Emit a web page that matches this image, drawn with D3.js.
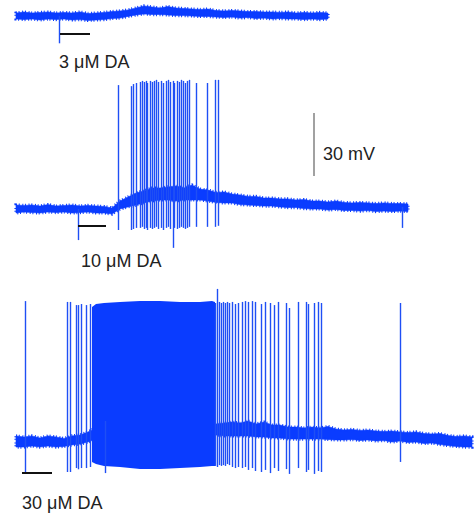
<!DOCTYPE html>
<html>
<head>
<meta charset="utf-8">
<script src="https://cdn.jsdelivr.net/npm/d3@7"></script>
<style>
  body { margin: 0; background: #fff; }
  svg { display: block; }
  text { font-family: "Liberation Sans", Arial, sans-serif; font-size: 18px; fill: #222; }
</style>
</head>
<body>
<svg id="chart" width="476" height="515"></svg>
<script>
// envelope of each recording, sampled every 16 s (mV relative to resting level)
const sampleStep = 16;

const trace1Hi = [1.4, 1.9, 1.4, 1.7, 1.9, 1.4, 1.7, 1.4, 1.9, 1.2,
    1.4, 1.7, 2.1, 2.4, 2.9, 3.8, 4.8, 4.3, 3.8, 4.5,
    3.8, 3.6, 3.3, 3.1, 3.3, 2.6, 2.4, 2.6, 2.4, 2.1,
    2.1, 1.9, 1.9, 1.7, 1.9, 1.4, 1.7, 1.4, 1.7, 1.4];
const trace1Lo = [-1.4, -1.7, -1.4, -1.9, -1.4, -1.7, -1.4, -1.9, -1.7, -2.1,
    -1.9, -1.7, -1.2, -1.0, -0.2, 0.5, 1.0, 0.7, 0.7, 0.5,
    0.2, 0.2, 0, -0.2, -0.2, -0.5, -0.7, -0.5, -1.0, -0.7,
    -1.2, -1.0, -1.4, -1.2, -1.4, -1.4, -1.7, -1.4, -1.7, -1.4];

const trace2Hi = [1.9, 1.7, 1.9, 1.4, 2.1, 1.4, 1.7, 1.9, 1.4, 1.7,
    1.4, 1.2, 0.5, 3.8, 5.7, 7.6, 8.6, 10.0, 10.0, 10.5,
    11.0, 10.0, 11.4, 9.5, 9.0, 7.9, 8.1, 7.1, 6.7, 6.0,
    6.0, 5.2, 5.2, 4.8, 4.8, 4.3, 4.5, 3.8, 3.8, 3.3,
    3.8, 3.1, 2.9, 3.1, 2.9, 2.6, 2.9, 2.6, 2.6, 2.4];
const trace2Lo = [-1.9, -1.4, -1.7, -1.9, -1.4, -1.7, -1.4, -1.9, -1.7, -1.4,
    -1.9, -1.9, -2.4, 0, 1.0, 1.9, 2.9, 3.8, 4.3, 4.3,
    3.8, 4.3, 4.3, 4.3, 3.8, 3.1, 2.9, 2.9, 2.1, 1.9,
    1.7, 1.4, 1.4, 1.0, 0.7, 0.7, 0.2, 0, 0, -0.5,
    -0.2, -0.7, -0.7, -1.0, -0.7, -1.2, -1.0, -1.2, -1.0, -1.2];

const trace3Hi = [2.9, 2.4, 2.9, 1.9, 2.9, 2.4, 1.7, 2.9, 3.3, 4.8,
    6.7, 7.1, 7.6, 7.6, 7.6, 7.6, 7.6, 7.6, 7.6, 7.6,
    7.6, 8.1, 8.1, 8.1, 8.6, 8.6, 9.0, 9.5, 9.0, 10.0,
    8.6, 9.5, 8.1, 8.1, 7.1, 7.1, 6.7, 7.1, 6.7, 7.4,
    6.2, 5.7, 6.0, 5.5, 5.7, 5.2, 5.0, 5.2, 4.8, 4.5,
    4.8, 4.0, 3.8, 4.0, 3.1, 2.6, 2.9, 2.4];
const trace3Lo = [-2.4, -2.4, -1.9, -2.4, -1.9, -2.4, -2.1, -1.4, -1.0, 0,
    1.4, 1.9, 2.4, 2.4, 2.4, 2.4, 2.4, 2.4, 2.4, 2.4,
    2.4, 2.9, 2.9, 2.9, 3.3, 3.3, 2.9, 2.9, 2.9, 2.9,
    2.4, 2.4, 1.9, 1.9, 1.4, 1.4, 1.4, 1.4, 1.4, 1.2,
    1.0, 1.0, 1.2, 0.7, 1.0, 0.5, 0.7, 0, 0.5, -0.2,
    0, -0.7, -0.5, -1.2, -1.7, -2.1, -2.4, -2.4];

// action potentials and artifacts: time (s), peak (mV), trough (mV)
const trace1SpikeT = [86];
const trace1SpikePeak = [0];
const trace1SpikeTrough = [-13];

const trace2SpikeT = [124, 204, 230, 234, 240, 248, 252, 256, 260, 262,
    268, 272, 276, 280, 284, 290, 294, 300, 304, 308,
    314, 316, 322, 326, 330, 334, 338, 342, 346, 360,
    382, 398, 404, 772];
const trace2SpikePeak = [0, 59, 58.5, 59.5, 60, 60.5, 61, 60.5, 61, 60,
    61, 60.5, 61, 61.5, 60.5, 61, 60, 61, 61.5, 60.5,
    61, 60, 61, 60.5, 61.5, 61, 60, 61, 61.5, 60,
    60, 61.5, 61.5, 1];
const trace2SpikeTrough = [-14.8, -10, -10, -9.5, -9, -9, -8.5, -9.5, -9, -10,
    -9, -9.5, -9, -8.5, -9.5, -9, -10, -9, -8.5, -9.5,
    -18.5, -9, -9.5, -9, -8.5, -9, -9.5, -9, -8.5, -8.5,
    -8.5, -8.5, -8, -9];

const trace3SpikeT = [18, 102, 108, 120, 124, 130, 140, 148, 178, 398,
    402, 406, 410, 414, 418, 422, 426, 432, 438, 444,
    452, 458, 464, 472, 478, 490, 498, 508, 516, 524,
    540, 546, 564, 580, 584, 596, 604, 610, 768];
const trace3SpikePeak = [67.1, 66.7, 66.7, 65.2, 65.2, 65.7, 65.2, 65.7, 10, 66.2,
    72.9, 66.7, 66.2, 66.7, 66.2, 66.7, 66.2, 66.7, 65.7, 66.2,
    66.7, 67.1, 66.7, 67.1, 66.7, 65.7, 66.7, 66.2, 65.2, 66.7,
    66.2, 63.8, 66.7, 66.7, 65.7, 66.2, 66.7, 66.2, 66.2];
const trace3SpikeTrough = [-14.3, -14.3, -14.3, -12.4, -13, -12.4, -12.4, -11.9, -14.8, -11.4,
    -11.9, -11, -11.4, -11, -11.4, -10.5, -11, -11.9, -12.4, -11.9,
    -12.4, -11.9, -13.3, -12.4, -13.8, -14.3, -13.3, -14.8, -12.4, -13.8,
    -12.9, -15.2, -12.4, -14.3, -13.3, -15.2, -13.8, -14.3, -9.5];

// high-frequency burst in 30 uM DA, drawn as its envelope
const burstT = [152, 160, 176, 208, 248, 288, 328, 368, 392, 398];
const burstTop = [64.3, 65.7, 66.2, 66.7, 67.1, 67.1, 66.7, 66.7, 67.1, 66.7];
const burstBottom = [-9.5, -10.5, -11.4, -11.9, -12.9, -12.9, -12.4, -11.9, -11.4, -11.4];

// drug application
const drugLabels = ["3 μM DA", "10 μM DA", "30 μM DA"];
const drugOn = [88, 124, 12];
const drugOff = [148, 180, 72];

const scaleBarMv = 30;
const scaleBarLabel = "30 mV";

const svg = d3.select('#chart');

var x = d3.scaleLinear().domain([0, 908]).range([16, 470]);
var pxPerMv = 2.1;

// resting level of each trace on the page, bar and label offsets
var layout = [
    {rest: 16, barDy: 18, labelDx: -1, labelDy: 52},
    {rest: 209, barDy: 17, labelDx: 3, labelDy: 58},
    {rest: 442, barDy: 31, labelDx: 0, labelDy: 67}
];

var traces = [
    {hi: trace1Hi, lo: trace1Lo, t: trace1SpikeT, peak: trace1SpikePeak, trough: trace1SpikeTrough},
    {hi: trace2Hi, lo: trace2Lo, t: trace2SpikeT, peak: trace2SpikePeak, trough: trace2SpikeTrough},
    {hi: trace3Hi, lo: trace3Lo, t: trace3SpikeT, peak: trace3SpikePeak, trough: trace3SpikeTrough}
];

var traceColor = '#0a3cff';
var spikeColor = '#1f4ff5';

var yScales = layout.map(function (l) {
    return d3.scaleLinear().domain([0, scaleBarMv]).range([l.rest, l.rest - scaleBarMv * pxPerMv]);
});

traces.forEach(function (tr, k) {
    var y = yScales[k];
    var g = svg.append('g');

    var band = tr.hi.map(function (h, i) {
        return {t: i * sampleStep, hi: h, lo: tr.lo[i]};
    });

    var bandArea = d3.area()
        .x(d => x(d.t))
        .y0(d => y(d.lo))
        .y1(d => y(d.hi));

    g.append('path')
        .datum(band)
        .attr('d', bandArea)
        .style('fill', traceColor)
        .style('stroke', traceColor)
        .style('stroke-width', 0.6);

    // ragged outline to mimic the recording noise
    g.append('path')
        .datum(band)
        .attr('d', bandArea)
        .style('fill', 'none')
        .style('stroke', traceColor)
        .style('stroke-width', 3.2)
        .style('stroke-dasharray', '1 1.7 1 2.6');

    if (k === 2) {
        var burst = burstT.map(function (t, i) {
            return {t: t, top: burstTop[i], bottom: burstBottom[i]};
        });
        g.append('path')
            .datum(burst)
            .attr('d', d3.area()
                .x(d => x(d.t))
                .y0(d => y(d.bottom))
                .y1(d => y(d.top)))
            .style('fill', traceColor);
    }

    var spikes = tr.t.map(function (t, i) {
        return {t: t, peak: tr.peak[i], trough: tr.trough[i]};
    });

    g.selectAll('line.spike')
        .data(spikes)
        .enter()
        .append('line')
        .attr('class', 'spike')
        .attr('x1', d => Math.round(x(d.t)) + 0.5)
        .attr('x2', d => Math.round(x(d.t)) + 0.5)
        .attr('y1', d => y(d.peak))
        .attr('y2', d => y(d.trough))
        .style('stroke', spikeColor)
        .style('stroke-width', 1.4);

    // drug bar and label
    var l = layout[k];
    g.append('line')
        .attr('x1', x(drugOn[k]))
        .attr('x2', x(drugOff[k]))
        .attr('y1', l.rest + l.barDy)
        .attr('y2', l.rest + l.barDy)
        .style('stroke', '#111')
        .style('stroke-width', 2);

    g.append('text')
        .attr('x', x(drugOn[k]) + l.labelDx)
        .attr('y', l.rest + l.labelDy)
        .text(drugLabels[k]);
});

// voltage scale bar next to the 10 uM trace
var yBar = yScales[1];
var barT = 596;
var barBase = 15.7;
svg.append('line')
    .attr('x1', x(barT))
    .attr('x2', x(barT))
    .attr('y1', yBar(barBase))
    .attr('y2', yBar(barBase + scaleBarMv))
    .style('stroke', '#8a8a8a')
    .style('stroke-width', 1.6);

svg.append('text')
    .attr('x', x(barT) + 9)
    .attr('y', yBar(barBase) - 16)
    .text(scaleBarLabel);
</script>
</body>
</html>
